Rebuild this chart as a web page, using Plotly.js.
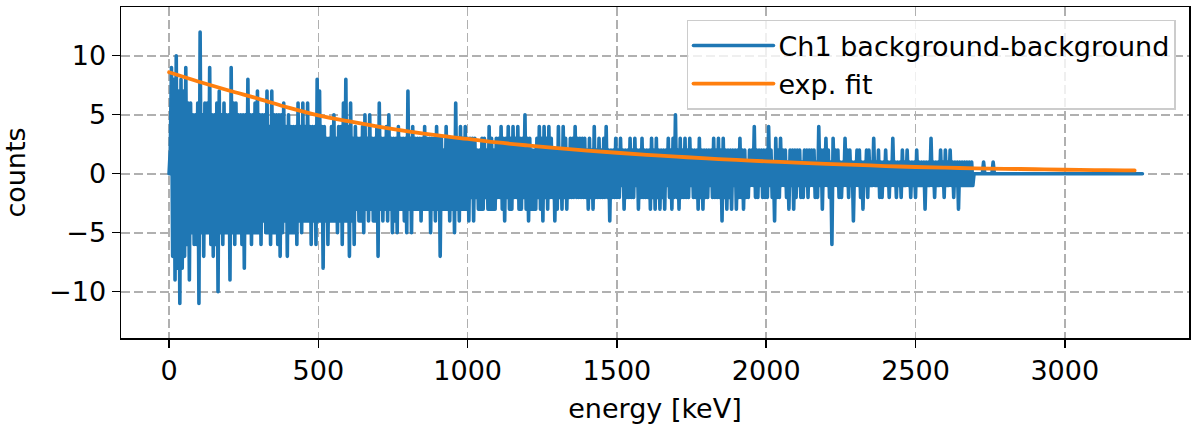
<!DOCTYPE html>
<html>
<head>
<meta charset="utf-8">
<script src="https://cdn.plot.ly/plotly-3.0.1.min.js"></script>
<style>
html,body{margin:0;padding:0;background:#fff;}
#chart{width:1192px;height:426px;}
#chart path.js-line{stroke-linejoin:round !important;stroke-linecap:round !important;}
</style>
</head>
<body>
<div id="chart"></div>
<script>
// Spectrum bins: width in keV (channel calibration)
const binWidthKeV = 4;

// Ch1 background-background counts per 4 keV bin
const counts = [
  0,2, 9,-7, 8,-9, 10,-8, 7,-11, 8,-8, 7,-7, 9,-6, 6,-9, 6,-5, 5,-6, 5,-6, 6,-11, 12,-5, 5,-7, 6,-5, 6,-5, 9,-6, 5,-7, 5,-6, 6,-10, 7,-5, 5,-6, 6,-5, 5,-5,
  5,-9, 9,-5, 6,-6, 6,-5, 5,-5, 5,-6, 5,-8, 5,-5, 8,-5, 5,-6, 5,-5, 6,-5, 7,-5, 5,-6, 5,-4, 5,-5, 7,-5, 4,-6, 7,-5, 5,-5, 5,-6, 5,-7, 5,-5, 6,-4, 4,-7,
  5,-5, 4,-5, 4,-5, 4,-6, 6,-4, 4,-5, 6,-4, 4,-4, 6,-4, 4,-6, 4,-4, 4,-6, 8,-4, 7,-4, 4,-8, 4,-4, 3,-6, 3,-4, 4,-4, 5,-4, 3,-5, 4,-4, 4,-6, 6,-4, 8,-4,
  4,-7, 6,-4, 3,-6, 4,-3, 3,-4, 3,-4, 4,-5, 5,-3, 3,-4, 5,-3, 3,-4, 3,-4, 4,-7, 6,-3, 3,-4, 3,-3, 4,-4, 5,-3, 3,-5, 3,-4, 3,-5, 4,-3, 3,-3, 3,-4, 3,-5,
  7,-3, 3,-5, 4,-3, 3,-3, 3,-3, 3,-4, 3,-3, 4,-3, 3,-3, 3,-5, 3,-3, 3,-4, 4,-3, 3,-7, 3,-3, 2,-3, 4,-3, 3,-4, 3,-3, 3,-5, 6,-3, 3,-4, 4,-3, 3,-3, 4,-3,
  3,-4, 3,-2, 3,-4, 3,-2, 2,-3, 2,-3, 3,-3, 3,-2, 2,-3, 4,-3, 3,-3, 2,-3, 3,-2, 3,-2, 4,-3, 3,-4, 3,-2, 4,-3, 3,-3, 4,-2, 3,-2, 4,-3, 3,-3, 3,-2, 5,-3,
  3,-4, 3,-3, 2,-3, 2,-3, 3,-2, 4,-3, 3,-4, 4,-2, 3,-3, 4,-2, 3,-2, 2,-4, 2,-3, 4,-2, 2,-3, 4,-2, 3,-3, 2,-2, 3,-2, 3,-2, 4,-2, 3,-2, 3,-2, 3,-2, 3,-2,
  2,-3, 3,-2, 2,-3, 4,-2, 2,-2, 3,-2, 2,-2, 3,-2, 4,-2, 2,-4, 2,-2, 2,-2, 3,-2, 2,-2, 3,-1, 2,-3, 2,-2, 2,-2, 3,-2, 2,-2, 3,-1, 2,-3, 2,-2, 3,-2, 2,-2,
  2,-2, 2,-3, 3,-2, 2,-3, 3,-2, 2,-3, 2,-2, 2,-3, 2,-1, 3,-2, 2,-3, 3,-2, 5,-2, 2,-3, 3,-2, 2,-2, 3,-2, 2,-2, 3,-1, 2,-2, 2,-2, 2,-3, 3,-2, 2,-3, 2,-2,
  2,-2, 2,-1, 2,-2, 3,-2, 2,-2, 3,-2, 2,-4, 3,-2, 2,-3, 2,-2, 2,-3, 2,-1, 2,-3, 2,-2, 3,-2, 2,-3, 2,-2, 1,-2, 2,-1, 2,-1, 4,-2, 2,-2, 2,-1, 2,-2, 2,-2,
  2,-2, 4,-1, 2,-2, 1,-4, 3,-2, 2,-2, 3,-1, 2,-1, 2,-2, 1,-3, 2,-1, 2,-3, 2,-2, 2,-1, 2,-2, 1,-2, 2,-1, 2,-2, 2,-1, 2,-1, 2,-2, 1,-2, 4,-1, 2,-3, 2,-1,
  3,-1, 2,-2, 1,-6, 3,-1, 2,-1, 2,-2, 1,-2, 1,-1, 3,-1, 2,-2, 2,-1, 1,-4, 1,-1, 2,-1, 2,-2, 1,-3, 1,-1, 2,-2, 2,-1, 1,-1, 3,-1, 1,-1, 2,-2, 1,-2, 1,-1,
  2,-1, 1,-2, 1,-1, 3,-1, 1,-2, 1,-1, 1,-2, 2,-1, 1,-1, 2,-1, 1,-2, 1,-1, 1,-2, 2,-1, 1,-1, 1,-1, 1,-3, 1,-1, 1,-1, 3,-1, 1,-2, 1,-1, 1,-1, 2,-1, 1,-2,
  2,-1, 1,-1, 2,-1, 1,-2, 1,-1, 1,-3, 1,-1, 1,-1, 1,-1, 1,-1, 1,-1, 1,-1, 0,0, 0,0, 0,0, 0,0, 1,0, 0,0, 0,0, 0,0, 1,0, 0,0, 0,0, 0,0, 0,0,
  0,0, 0,0, 0,0, 0,0, 0,0, 0,0, 0,0, 0,0, 0,0, 0,0, 0,0, 0,0, 0,0, 0,0, 0,0, 0,0, 0,0, 0,0, 0,0, 0,0, 0,0, 0,0, 0,0, 0,0, 0,0,
  0,0, 0,0, 0,0, 0,0, 0,0, 0,0, 0,0, 0,0, 0,0, 0,0, 0,0, 0,0, 0,0, 0,0, 0,0, 0,0, 0,0, 0,0, 0,0, 0,0, 0,0, 0,0, 0,0, 0,0, 0,0,
  0,0, 0,0, 0,0, 0,0, 0,0, 0,0, 0,0, 0,0
];
const energy = counts.map((_, i) => i * binWidthKeV);

// exponential fit curve
const fitEnergy = [0, 100, 200, 300, 400, 500, 600, 700, 800, 900, 1000, 1100, 1200, 1300, 1400, 1500, 1600,
  1700, 1800, 1900, 2000, 2100, 2200, 2300, 2400, 2500, 2600, 2700, 2800, 2900, 3000, 3100, 3200, 3234];
const fitCounts = [8.6, 7.8, 7.05, 6.35, 5.6, 4.95, 4.45, 4.0, 3.6, 3.25, 2.95, 2.65, 2.4, 2.17, 1.96, 1.78, 1.6,
  1.45, 1.3, 1.17, 1.05, 0.94, 0.84, 0.75, 0.65, 0.57, 0.51, 0.46, 0.42, 0.38, 0.34, 0.31, 0.29, 0.28];

const xTicks = [0, 500, 1000, 1500, 2000, 2500, 3000];
const yTicks = [-10, -5, 0, 5, 10];

const FONT = 'DejaVu Sans, Liberation Sans, sans-serif';
const FS = 27;

const traces = [
  {
    x: energy, y: counts, type: 'scatter', mode: 'lines',
    name: 'Ch1 background-background',
    line: {color: '#1f77b4', width: 3.6, simplify: false},
    legendgroup: 'a'
  },
  {
    x: fitEnergy, y: fitCounts, type: 'scatter', mode: 'lines',
    name: 'exp. fit',
    line: {color: '#ff7f0e', width: 3.8, shape: 'spline'},
    legendgroup: 'b'
  }
];

const axisCommon = {
  showline: true, mirror: true, linecolor: '#000', linewidth: 1.5,
  ticks: 'outside', ticklen: 8, tickwidth: 1.5, tickcolor: '#000',
  showgrid: true, gridcolor: '#b0b0b0', gridwidth: 1.6, griddash: '9px,4px',
  zeroline: false, automargin: false,
  tickfont: {family: FONT, size: FS, color: '#000'}
};

const layout = {
  width: 1192, height: 426,
  margin: {l: 121, r: 3, t: 7, b: 88},
  paper_bgcolor: '#fff', plot_bgcolor: '#fff',
  font: {family: FONT, size: FS, color: '#000'},
  showlegend: true,
  xaxis: Object.assign({}, axisCommon, {
    range: [-161, 3416], tickmode: 'array', tickvals: xTicks,
    title: {text: 'energy [keV]', font: {family: FONT, size: FS, color: '#000'}, standoff: 14}
  }),
  yaxis: Object.assign({}, axisCommon, {
    range: [-13.92, 14.13], tickmode: 'array', tickvals: yTicks,
    title: {text: 'counts', font: {family: FONT, size: FS, color: '#000'}, standoff: 16}
  }),
  legend: {
    x: 0.9878, y: 0.961, xanchor: 'right', yanchor: 'top',
    bgcolor: 'rgba(255,255,255,0.8)', bordercolor: '#cccccc', borderwidth: 1.5,
    font: {family: FONT, size: FS, color: '#000'},
    traceorder: 'grouped', tracegroupgap: 0, itemwidth: 80
  }
};

Plotly.newPlot('chart', traces, layout, {displayModeBar: false, staticPlot: true});
</script>
</body>
</html>
